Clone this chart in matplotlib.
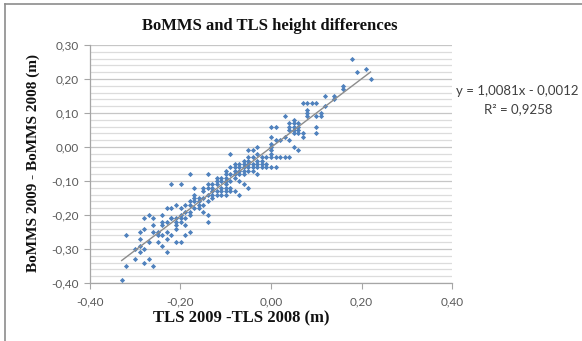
import matplotlib
matplotlib.use("Agg")
import matplotlib.pyplot as plt
from matplotlib.lines import Line2D
from matplotlib.ticker import MultipleLocator, FuncFormatter

# TLS 2009 - TLS 2008 (m)
tls_diff = [
    -0.33,
    -0.32, -0.32,
    -0.30, -0.30,
    -0.29, -0.29, -0.29, -0.29,
    -0.28, -0.28, -0.28, -0.28,
    -0.27, -0.27, -0.27,
    -0.26, -0.26, -0.26, -0.26,
    -0.25, -0.25, -0.25,
    -0.24, -0.24, -0.24, -0.24, -0.24,
    -0.23, -0.23, -0.23, -0.23, -0.23,
    -0.22, -0.22, -0.22, -0.22, -0.22,
    -0.21, -0.21, -0.21, -0.21, -0.21, -0.21,
    -0.20, -0.20, -0.20, -0.20, -0.20, -0.20,
    -0.19, -0.19, -0.19, -0.19, -0.19,
    -0.18, -0.18, -0.18, -0.18, -0.18, -0.18,
    -0.17, -0.17, -0.17, -0.17, -0.17,
    -0.16, -0.16, -0.16, -0.16,
    -0.15, -0.15, -0.15, -0.15, -0.15,
    -0.14, -0.14, -0.14, -0.14, -0.14, -0.14, -0.14,
    -0.13, -0.13, -0.13, -0.13, -0.13,
    -0.12, -0.12, -0.12, -0.12, -0.12,
    -0.11, -0.11, -0.11, -0.11, -0.11,
    -0.10, -0.10, -0.10, -0.10, -0.10, -0.10, -0.10, -0.10,
    -0.09, -0.09, -0.09, -0.09, -0.09, -0.09,
    -0.08, -0.08, -0.08, -0.08, -0.08, -0.08,
    -0.07, -0.07, -0.07, -0.07, -0.07, -0.07,
    -0.06, -0.06, -0.06, -0.06, -0.06, -0.06,
    -0.05, -0.05, -0.05, -0.05, -0.05, -0.05, -0.05,
    -0.04, -0.04, -0.04, -0.04, -0.04,
    -0.03, -0.03, -0.03, -0.03, -0.03, -0.03,
    -0.02, -0.02, -0.02, -0.02,
    -0.01, -0.01, -0.01,
    0.00, 0.00, 0.00, 0.00, 0.00, 0.00, 0.00, 0.00,
    0.01, 0.01, 0.01, 0.01,
    0.02, 0.02,
    0.03, 0.03, 0.03,
    0.04, 0.04, 0.04, 0.04, 0.04,
    0.05, 0.05, 0.05, 0.05, 0.05, 0.05,
    0.06, 0.06, 0.06, 0.06, 0.06,
    0.07, 0.07, 0.07,
    0.08, 0.08, 0.08, 0.08,
    0.09,
    0.10, 0.10, 0.10, 0.10,
    0.11, 0.11,
    0.12, 0.12,
    0.14, 0.14,
    0.16, 0.16,
    0.18,
    0.19,
    0.21,
    0.22,
]

# BoMMS 2009 - BoMMS 2008 (m)
bomms_diff = [
    -0.39,
    -0.35, -0.26,
    -0.30, -0.33,
    -0.25, -0.27, -0.29, -0.31,
    -0.21, -0.24, -0.30, -0.34,
    -0.20, -0.28, -0.33,
    -0.21, -0.23, -0.25, -0.35,
    -0.25, -0.26, -0.28,
    -0.20, -0.22, -0.23, -0.26, -0.29,
    -0.18, -0.22, -0.25, -0.27, -0.31,
    -0.11, -0.18, -0.21, -0.21, -0.26,
    -0.17, -0.21, -0.22, -0.23, -0.24, -0.28,
    -0.11, -0.18, -0.20, -0.21, -0.22, -0.28,
    -0.17, -0.19, -0.21, -0.23, -0.26,
    -0.08, -0.16, -0.17, -0.19, -0.20, -0.25,
    -0.12, -0.14, -0.15, -0.16, -0.18,
    -0.15, -0.16, -0.17, -0.18,
    -0.12, -0.13, -0.15, -0.17, -0.19,
    -0.08, -0.11, -0.12, -0.14, -0.16, -0.20, -0.22,
    -0.11, -0.12, -0.13, -0.14, -0.15,
    -0.09, -0.10, -0.11, -0.13, -0.14,
    -0.09, -0.10, -0.12, -0.13, -0.14,
    -0.07, -0.08, -0.09, -0.10, -0.11, -0.12, -0.13, -0.14,
    -0.02, -0.06, -0.08, -0.10, -0.12, -0.13,
    -0.05, -0.06, -0.07, -0.08, -0.09, -0.13,
    -0.05, -0.06, -0.07, -0.08, -0.10, -0.14,
    -0.04, -0.05, -0.06, -0.07, -0.08, -0.11,
    -0.01, -0.03, -0.04, -0.05, -0.06, -0.07, -0.12,
    -0.01, -0.03, -0.05, -0.06, -0.07,
    0.00, -0.02, -0.04, -0.05, -0.06, -0.08,
    -0.03, -0.04, -0.05, -0.06,
    -0.03, -0.05, -0.06,
    0.06, 0.03, 0.01, 0.00, -0.01, -0.02, -0.03, -0.06,
    0.06, 0.02, -0.03, -0.06,
    0.02, -0.03,
    0.09, 0.03, -0.03,
    0.02, 0.05, 0.06, 0.07, -0.03,
    0.04, 0.05, 0.06, 0.07, 0.08, 0.00,
    0.04, 0.05, 0.06, 0.07, -0.01,
    0.03, 0.04, 0.13,
    0.09, 0.10, 0.11, 0.13,
    0.13,
    0.04, 0.06, 0.09, 0.13,
    0.09, 0.10,
    0.12, 0.15,
    0.14, 0.15,
    0.17, 0.18,
    0.26,
    0.22,
    0.23,
    0.20,
]

trend_slope = 1.0081
trend_intercept = -0.0012
equation_text = "y = 1,0081x - 0,0012"
r2_text = "R² = 0,9258"

title_text = "BoMMS and TLS height differences"
x_label = "TLS 2009 -TLS 2008 (m)"
y_label = "BoMMS 2009 - BoMMS 2008 (m)"

fig = plt.figure(figsize=(5.82, 3.41), dpi=100)
fig.patch.set_facecolor("white")
ax = fig.add_axes([90/582, 1-283/341, (452-90)/582, (283-45)/341])

ax.set_xlim(-0.40, 0.40)
ax.set_ylim(-0.40, 0.30)

ax.yaxis.set_major_locator(MultipleLocator(0.10))
ax.yaxis.set_minor_locator(MultipleLocator(0.02))
ax.xaxis.set_major_locator(MultipleLocator(0.20))
ax.grid(axis="y", which="major", color="#c6c6c6", lw=0.9, zorder=0)
ax.grid(axis="y", which="minor", color="#dcdcdc", lw=0.9, zorder=0)
ax.grid(axis="x", visible=False)

fmt = FuncFormatter(lambda v, p: f"{v:.2f}".replace(".", ",").replace("-0,00", "0,00"))
ax.xaxis.set_major_formatter(fmt)
ax.yaxis.set_major_formatter(fmt)

for s in ["top", "right"]:
    ax.spines[s].set_visible(False)
for s in ["left", "bottom"]:
    ax.spines[s].set_color("#a6a6a6")
    ax.spines[s].set_linewidth(0.9)

ax.tick_params(axis="both", which="major", length=4, color="#a6a6a6",
               labelsize=8.5, labelcolor="#595959", direction="out")
ax.tick_params(axis="y", which="minor", length=0)
for lab in ax.get_xticklabels() + ax.get_yticklabels():
    lab.set_fontfamily("Lato")
ax.tick_params(axis="x", pad=6)
ax.tick_params(axis="y", pad=4)

ax.scatter(tls_diff, bomms_diff, marker="D", s=7, color="#4f81bd",
           linewidths=0, zorder=3)

xmin, xmax = min(tls_diff), max(tls_diff)
ax.plot([xmin, xmax],
        [trend_slope*xmin + trend_intercept, trend_slope*xmax + trend_intercept],
        color="#8c8c8c", lw=1.0, zorder=4)

fig.text(270/582, 1-26/341, title_text, ha="center", va="center",
         fontfamily="Liberation Serif", fontweight="bold", fontsize=12, color="#111111")
fig.text(241/582, 1-318/341, x_label, ha="center", va="center",
         fontfamily="Liberation Serif", fontweight="bold", fontsize=12, color="#111111")
fig.text(33/582, 1-163/341, y_label, ha="center", va="center", rotation=90,
         fontfamily="Liberation Serif", fontweight="bold", fontsize=11, color="#111111")

fig.text(456/582, 1-91/341, equation_text, ha="left", va="center",
         fontfamily="Lato", fontsize=9.5, color="#404040")
fig.text(484/582, 1-109/341, r2_text, ha="left", va="center",
         fontfamily="Lato", fontsize=9.5, color="#404040")

# chart area frame (left & top edges visible)
fig.add_artist(Line2D([5/582, 5/582], [0, 1-4/341], transform=fig.transFigure,
                      color="#8c8c8c", lw=1.2))
fig.add_artist(Line2D([5/582, 1], [1-4/341, 1-4/341], transform=fig.transFigure,
                      color="#8c8c8c", lw=1.2))

fig.savefig("out.png", dpi=100, facecolor="white")
